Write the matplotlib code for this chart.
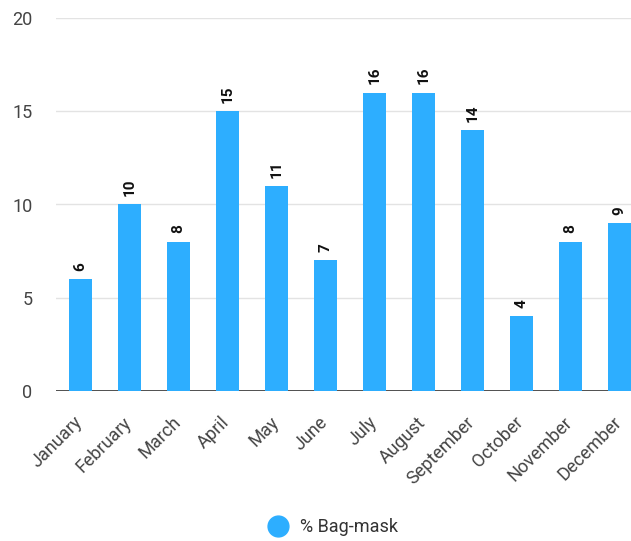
import matplotlib
matplotlib.use("Agg")
import matplotlib.pyplot as plt
import matplotlib.transforms as mtransforms
from matplotlib.lines import Line2D

# Daten
months = ["January", "February", "March", "April", "May", "June", "July",
          "August", "September", "October", "November", "December"]
bag_mask = [6, 10, 8, 15, 11, 7, 16, 16, 14, 4, 8, 9]
series_name = "% Bag-mask"
y_ticks = [0, 5, 10, 15, 20]

bar_color = "#2DAEFF"
plt.rcParams["font.family"] = ["Roboto", "DejaVu Sans"]

fig = plt.figure(figsize=(6.31, 5.41), dpi=100)
# Achse geht rechts ueber den Rand hinaus (wie im Original abgeschnitten)
ax = fig.add_axes([56 / 631, 150 / 541, 588 / 631, 373 / 541])

x = list(range(len(months)))
ax.bar(x, bag_mask, width=0.47, color=bar_color, zorder=3)

# Werte ueber den Balken
for xi, v in zip(x, bag_mask):
    ax.annotate(str(v), (xi, v), xytext=(0, 6), textcoords="offset points",
                rotation=90, ha="center", va="bottom", fontsize=11,
                fontweight="bold", color="#111111")

ax.set_xlim(-0.5, len(months) - 0.5)
ax.set_ylim(0, 20)
ax.set_yticks(y_ticks)
ax.yaxis.grid(True, color="#e3e3e3", linewidth=1, zorder=0)
ax.axhline(0, color="#333333", linewidth=1.2, zorder=2)

for s in ax.spines.values():
    s.set_visible(False)

ax.tick_params(axis="y", length=0, pad=17, labelsize=13, labelcolor="#444444")
ax.tick_params(axis="x", length=0, pad=16, labelsize=13, labelcolor="#444444")
ax.set_xticks(x)
ax.set_xticklabels(months, rotation=45, ha="right", va="top",
                   rotation_mode="anchor")
# etwas nach links schieben
shift = mtransforms.ScaledTranslation(-7 / 100, 0, fig.dpi_scale_trans)
for lbl in ax.get_xticklabels():
    lbl.set_transform(lbl.get_transform() + shift)

# Legende
handle = Line2D([], [], marker="o", linestyle="none", markersize=15,
                markerfacecolor=bar_color, markeredgecolor=bar_color)
fig.legend([handle], [series_name], loc="center",
           bbox_to_anchor=(329 / 631, 14 / 541), frameon=False,
           fontsize=13, handletextpad=0.2, labelcolor="#333333")

fig.savefig("out.png", dpi=100)
